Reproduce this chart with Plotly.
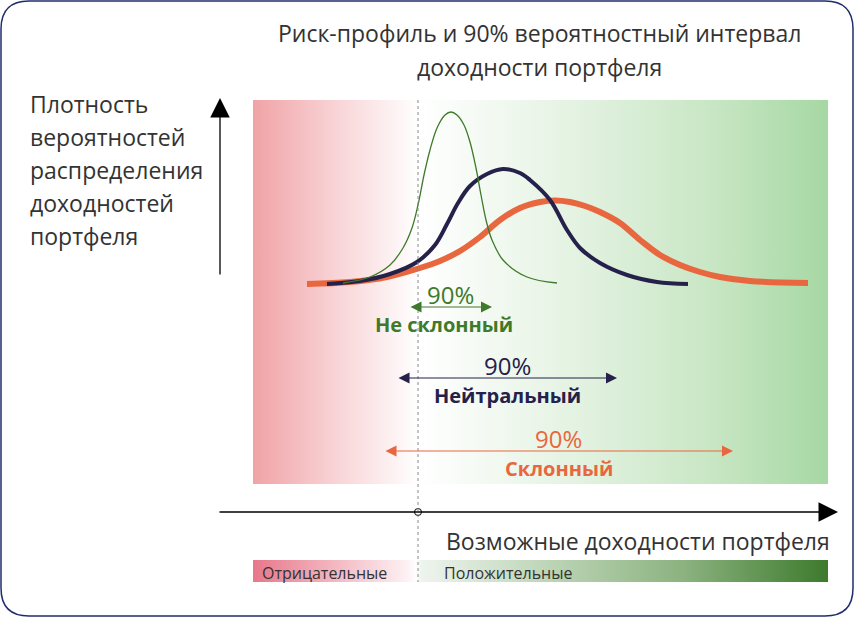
import plotly.graph_objects as go

# доходность, % (x) и плотность вероятности (y)
green_x = [-7.5, -4.8, -2.8, -1.5, -0.6, 0.0, 0.6, 1.2, 1.9, 2.7, 3.3, 3.9, 4.6, 5.2, 5.8, 6.3, 6.8, 7.4, 8.5, 10.9, 13.9]
green_y = [0.01, 0.07, 0.19, 0.36, 0.56, 0.79, 1.09, 1.34, 1.56, 1.69, 1.72, 1.69, 1.59, 1.42, 1.16, 0.89, 0.64, 0.44, 0.24, 0.07, 0.01]

navy_x = [-9.1, -5.8, -2.8, -0.1, 1.7, 2.9, 4.0, 5.2, 6.9, 8.5, 10.2, 11.2, 13.2, 14.9, 16.2, 18.2, 20.9, 23.9, 27.0]
navy_y = [0.0, 0.03, 0.10, 0.22, 0.39, 0.60, 0.81, 0.98, 1.10, 1.15, 1.11, 1.04, 0.84, 0.54, 0.36, 0.21, 0.09, 0.02, 0.0]

orange_x = [-11.1, -6.8, -3.1, 0.2, 2.2, 4.2, 6.2, 8.2, 10.2, 12.2, 13.7, 15.2, 16.7, 18.2, 20.2, 22.2, 24.2, 26.2, 28.2, 30.2, 33.2, 39.0]
orange_y = [0.0, 0.02, 0.07, 0.16, 0.23, 0.33, 0.47, 0.64, 0.76, 0.82, 0.835, 0.82, 0.78, 0.72, 0.61, 0.44, 0.29, 0.19, 0.12, 0.07, 0.03, 0.01]

# 90% интервалы (5% и 95% квантили)
profiles = ["Не склонный", "Нейтральный", "Склонный"]
interval_lo = [-0.9, -2.1, -3.4]
interval_hi = [7.4, 19.9, 31.5]
interval_label = "90%"

title_lines = ["Риск-профиль и 90% вероятностный интервал", "доходности портфеля"]
ylabel_lines = ["Плотность", "вероятностей", "распределения", "доходностей", "портфеля"]
xlabel = "Возможные доходности портфеля"
band_labels = ["Отрицательные", "Положительные"]

GREEN = "#3e7a2a"
NAVY = "#25214a"
ORANGE = "#e8673e"
TEXT = "#333333"
FONT = "Open Sans"
colors = [GREEN, NAVY, ORANGE]


# перевод пикселей картинки в координаты осей (1% = 10px, плотность 1 = 100px)
def px(v):
    return (v - 418) / 10


def py(v):
    return (284 - v) / 100


fig = go.Figure()

# фон с градиентом
bx0, bx1, by0, by1 = px(253), px(828), py(484), py(100)
fig.add_trace(go.Scatter(
    x=[bx0, bx1, bx1, bx0, bx0], y=[by0, by0, by1, by1, by0],
    mode="none", fill="toself", hoverinfo="skip", showlegend=False,
    fillgradient=dict(type="horizontal", colorscale=[
        [0, "#f0a3a6"], [0.14, "#f8d2d5"], [0.287, "#ffffff"],
        [0.55, "#e5f3e3"], [0.8, "#c8e6c4"], [1, "#a6d8a3"]]),
))

# полоса внизу
lx0, lx1, ly0, ly1 = px(253), px(828), py(582), py(560)
fig.add_trace(go.Scatter(
    x=[lx0, lx1, lx1, lx0, lx0], y=[ly0, ly0, ly1, ly1, ly0],
    mode="none", fill="toself", hoverinfo="skip", showlegend=False,
    fillgradient=dict(type="horizontal", colorscale=[
        [0, "#e8778a"], [0.27, "#fdf2f4"], [0.284, "#ffffff"], [0.292, "#eef4ee"],
        [0.5, "#c0d7ba"], [0.75, "#8bb27f"], [1, "#3d7a2c"]]),
))

# кривые
for xs, ys, c, w in [(orange_x, orange_y, ORANGE, 6), (navy_x, navy_y, NAVY, 4), (green_x, green_y, GREEN, 1.3)]:
    fig.add_trace(go.Scatter(x=xs, y=ys, mode="lines", line=dict(color=c, width=w, shape="spline", smoothing=1.0),
                             hoverinfo="skip", showlegend=False))

# точка нуля на оси
fig.add_trace(go.Scatter(x=[0], y=[py(512)], mode="markers", hoverinfo="skip", showlegend=False,
                         marker=dict(symbol="circle-open", size=7, color="black", line=dict(width=1))))

# пунктир нуля
fig.add_shape(type="line", x0=0, x1=0, y0=py(100), y1=py(582), layer="above",
              line=dict(color="#888888", width=1, dash="dot"))

anns = []
# оси-стрелки
anns.append(dict(x=px(838), y=py(512), ax=px(218), ay=py(512), xref="x", yref="y", axref="x", ayref="y",
                 text="", showarrow=True, arrowhead=2, arrowsize=3, arrowwidth=1.3, arrowcolor="black"))
anns.append(dict(x=px(220), y=py(98), ax=px(220), ay=py(276), xref="x", yref="y", axref="x", ayref="y",
                 text="", showarrow=True, arrowhead=2, arrowsize=3, arrowwidth=1.3, arrowcolor="black"))

# интервалы
arrow_y = [py(307), py(378), py(451)]
for i, name in enumerate(profiles):
    mid = (interval_lo[i] + interval_hi[i]) / 2
    anns.append(dict(x=interval_hi[i], y=arrow_y[i], ax=interval_lo[i], ay=arrow_y[i],
                     xref="x", yref="y", axref="x", ayref="y", text="", showarrow=True,
                     arrowhead=2, arrowside="end+start", arrowsize=2, arrowwidth=1.1, arrowcolor=colors[i]))
    anns.append(dict(x=mid, y=arrow_y[i] + 0.13, xref="x", yref="y", text=interval_label, showarrow=False,
                     font=dict(family=FONT, size=24, color=colors[i])))
    anns.append(dict(x=mid - (0.7 if i == 0 else 0), y=arrow_y[i] - 0.17, xref="x", yref="y",
                     text="<b>" + name + "</b>", showarrow=False,
                     font=dict(family=FONT, size=20, color=colors[i])))

# заголовок
for i, line in enumerate(title_lines):
    anns.append(dict(x=px(539), y=py(33 + 34 * i), xref="x", yref="y", text=line, showarrow=False,
                     font=dict(family=FONT, size=23, color=TEXT)))

# подпись оси y
for i, line in enumerate(ylabel_lines):
    anns.append(dict(x=px(28), y=py(104 + 33 * i), xref="x", yref="y", text=line, showarrow=False,
                     xanchor="left", font=dict(family=FONT, size=23, color=TEXT)))

# подпись оси x
anns.append(dict(x=px(832), y=py(541), xref="x", yref="y", text=xlabel, showarrow=False, xanchor="right",
                 font=dict(family=FONT, size=23, color=TEXT)))

# подписи полосы
anns.append(dict(x=px(260), y=py(573), xref="x", yref="y", text=band_labels[0], showarrow=False,
                 xanchor="left", font=dict(family=FONT, size=16, color=TEXT)))
anns.append(dict(x=px(442), y=py(573), xref="x", yref="y", text=band_labels[1], showarrow=False,
                 xanchor="left", font=dict(family=FONT, size=16, color=TEXT)))

# рамка со скруглёнными углами
r = 28
L, T, R, B = 1, 1, 853, 616
path = (f"M {px(L + r)},{py(T)} L {px(R - r)},{py(T)} Q {px(R)},{py(T)} {px(R)},{py(T + r)} "
        f"L {px(R)},{py(B - r)} Q {px(R)},{py(B)} {px(R - r)},{py(B)} "
        f"L {px(L + r)},{py(B)} Q {px(L)},{py(B)} {px(L)},{py(B - r)} "
        f"L {px(L)},{py(T + r)} Q {px(L)},{py(T)} {px(L + r)},{py(T)} Z")
fig.add_shape(type="path", path=path, xref="x", yref="y", line=dict(color="#1f2d6e", width=1.5), layer="above")

fig.update_layout(
    width=855, height=618,
    margin=dict(l=0, r=0, t=0, b=0),
    paper_bgcolor="white", plot_bgcolor="white",
    xaxis=dict(range=[px(0), px(855)], visible=False, fixedrange=True),
    yaxis=dict(range=[py(618), py(0)], visible=False, fixedrange=True),
    annotations=anns,
    showlegend=False,
)

fig.write_html("out.html", config={"displayModeBar": False},
               post_script="document.body.style.margin='0';document.body.style.overflow='hidden';")
